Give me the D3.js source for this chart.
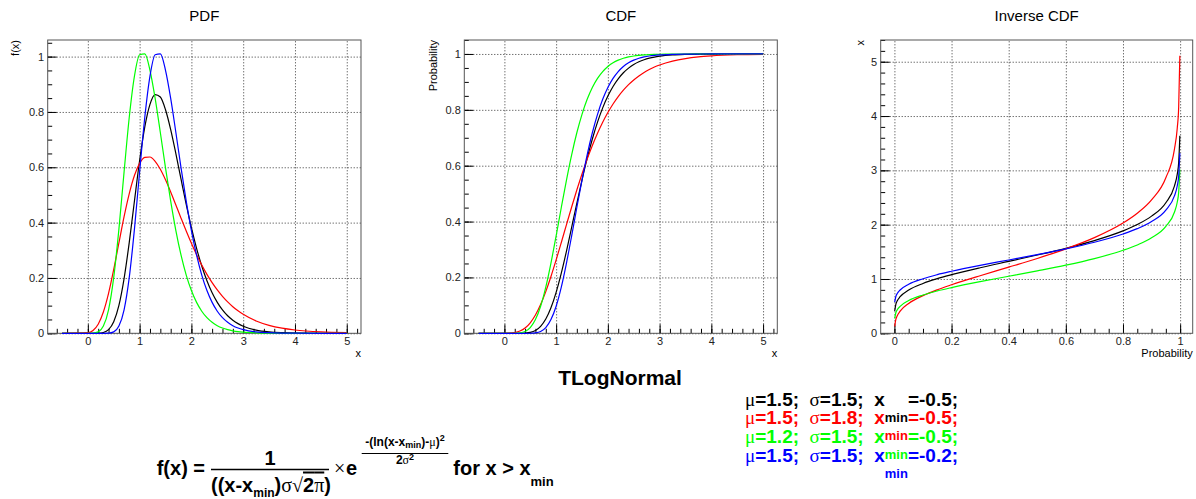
<!DOCTYPE html>
<html>
<head>
<meta charset="utf-8">
<script src="https://cdn.jsdelivr.net/npm/d3@7"></script>
<style>
  body { margin: 0; background: #fff; }
  text { font-family: "Liberation Sans", Arial, Helvetica, sans-serif; fill: #000; }
  .grid line { stroke: #000; stroke-dasharray: 1,2; stroke-width: 0.8; }
  .grid .domain { display: none; }
  .ax .domain { display: none; }
  .ax line { stroke: #000; }
  .ax text { font-size: 11px; fill: #222; }
  .greek { font-family: "Liberation Serif", "DejaVu Serif", serif; font-weight: normal; }
</style>
</head>
<body>
<script>
// x positions sampled for the PDF and CDF panels
var xGrid = [-0.5, 0, 0.1, 0.2, 0.3, 0.4, 0.5, 0.6, 0.7, 0.8, 0.9, 1.0, 1.1, 1.2, 1.3, 1.4, 1.5, 1.6, 1.7, 1.8, 1.9,
  2.0, 2.1, 2.2, 2.3, 2.4, 2.5, 2.6, 2.7, 2.8, 2.9, 3.0, 3.25, 3.5, 3.75, 4, 4.5, 5];

var pdfBlack = [0, 0, 0, 0.0004, 0.0029, 0.0132, 0.0418, 0.1009, 0.1978, 0.3288, 0.4782, 0.6246, 0.7459, 0.8275, 0.8629,
  0.8538, 0.8080, 0.7363, 0.6492, 0.5568, 0.4659, 0.3818, 0.3072, 0.2431, 0.1900, 0.1465, 0.1118, 0.0846, 0.0633,
  0.0472, 0.0349, 0.0257, 0.0117, 0.0052, 0.0023, 0.0010, 0.0002, 0];
var pdfRed = [0, 0.0021, 0.0104, 0.0330, 0.0770, 0.1444, 0.2308, 0.3268, 0.4216, 0.5050, 0.5703, 0.6140, 0.6357, 0.6371,
  0.6216, 0.5928, 0.5547, 0.5107, 0.4636, 0.4160, 0.3695, 0.3253, 0.2843, 0.2468, 0.2131, 0.1831, 0.1566, 0.1335,
  0.1135, 0.0962, 0.0813, 0.0686, 0.0446, 0.0288, 0.0185, 0.0119, 0.0049, 0.0021];
var pdfGreen = [0, 0, 0.0005, 0.0051, 0.0260, 0.0849, 0.2019, 0.3767, 0.5834, 0.7808, 0.9294, 1.0067, 1.0097, 0.9506,
  0.8491, 0.7257, 0.5979, 0.4774, 0.3711, 0.2822, 0.2104, 0.1544, 0.1117, 0.0798, 0.0565, 0.0396, 0.0276, 0.0191,
  0.0131, 0.0090, 0.0061, 0.0042, 0.0016, 0.0006, 0.0002, 0, 0, 0];
var pdfBlue = [0, 0, 0, 0, 0, 0.0005, 0.0051, 0.0260, 0.0849, 0.2019, 0.3767, 0.5834, 0.7808, 0.9294, 1.0067, 1.0097,
  0.9506, 0.8491, 0.7257, 0.5979, 0.4774, 0.3711, 0.2822, 0.2104, 0.1544, 0.1117, 0.0798, 0.0565, 0.0396, 0.0276,
  0.0191, 0.0131, 0.0051, 0.0021, 0.0008, 0.0003, 0, 0];

var cdfBlack = [0, 0, 0, 0, 0.0001, 0.0009, 0.0034, 0.0102, 0.0249, 0.0510, 0.0913, 0.1465, 0.2153, 0.2943, 0.3793,
  0.4655, 0.5487, 0.6261, 0.6956, 0.7559, 0.8070, 0.8493, 0.8837, 0.9111, 0.9327, 0.9494, 0.9623, 0.9720, 0.9794,
  0.9849, 0.9890, 0.9920, 0.9964, 0.9984, 0.9993, 0.9997, 1, 1];
var cdfRed = [0, 0.0001, 0.0006, 0.0027, 0.0080, 0.0188, 0.0375, 0.0653, 0.1028, 0.1493, 0.2032, 0.2626, 0.3252, 0.3890,
  0.4521, 0.5130, 0.5703, 0.6236, 0.6724, 0.7163, 0.7557, 0.7903, 0.8208, 0.8474, 0.8703, 0.8901, 0.9070, 0.9215,
  0.9339, 0.9443, 0.9532, 0.9606, 0.9746, 0.9836, 0.9895, 0.9932, 0.9972, 0.9988];
var cdfGreen = [0, 0, 0, 0.0002, 0.0016, 0.0067, 0.0205, 0.0490, 0.0969, 0.1655, 0.2515, 0.3489, 0.4503, 0.5487, 0.6390,
  0.7179, 0.7840, 0.8377, 0.8800, 0.9125, 0.9370, 0.9551, 0.9683, 0.9778, 0.9846, 0.9893, 0.9927, 0.9950, 0.9966,
  0.9977, 0.9984, 0.9989, 0.9996, 0.9999, 1, 1, 1, 1];
var cdfBlue = [0, 0, 0, 0, 0, 0, 0.0002, 0.0016, 0.0067, 0.0205, 0.0490, 0.0969, 0.1655, 0.2515, 0.3489, 0.4503, 0.5487,
  0.6390, 0.7179, 0.7840, 0.8377, 0.8800, 0.9125, 0.9370, 0.9551, 0.9683, 0.9778, 0.9846, 0.9893, 0.9927, 0.9950,
  0.9966, 0.9987, 0.9995, 0.9998, 1, 1, 1];

// probabilities sampled for the inverse CDF panel
var probGrid = [0.001, 0.005, 0.01, 0.02, 0.05, 0.1, 0.15, 0.2, 0.3, 0.4, 0.5, 0.6, 0.7, 0.8, 0.85, 0.9, 0.95, 0.98,
  0.99, 0.995, 0.999];
var invBlack = [0.410, 0.533, 0.598, 0.673, 0.797, 0.918, 1.006, 1.079, 1.207, 1.324, 1.441, 1.565, 1.707, 1.885, 2.002,
  2.157, 2.404, 2.710, 2.932, 3.148, 3.638];
var invRed = [0.129, 0.255, 0.325, 0.408, 0.549, 0.693, 0.802, 0.894, 1.060, 1.217, 1.378, 1.555, 1.761, 2.030, 2.211,
  2.457, 2.863, 3.386, 3.780, 4.176, 5.108];
var invGreen = [0.274, 0.378, 0.433, 0.497, 0.603, 0.705, 0.780, 0.842, 0.951, 1.050, 1.150, 1.255, 1.376, 1.528, 1.627,
  1.758, 1.968, 2.229, 2.417, 2.601, 3.017];
var invBlue = [0.574, 0.678, 0.733, 0.797, 0.903, 1.005, 1.080, 1.142, 1.251, 1.350, 1.450, 1.555, 1.676, 1.828, 1.927,
  2.058, 2.268, 2.529, 2.717, 2.901, 3.317];

var colors = ["#000000", "#ff0000", "#00ff00", "#0000ff"];
var mus = ["1.5", "1.5", "1.2", "1.5"];
var sigmas = ["1.5", "1.8", "1.5", "1.5"];
var xmins = ["-0.5", "-0.5", "-0.5", "-0.2"];

var svg = d3.select("body").append("svg")
  .attr("width", 1196)
  .attr("height", 499);

function stepTicks(domain, step) {
  var out = [];
  for (var k = Math.ceil(domain[0] / step - 1e-9); k * step <= domain[1] + 1e-9; k++) {
    out.push(+(k * step).toFixed(6));
  }
  return out;
}

function zip(xs, ys) {
  return xs.map(function(v, i) { return [v, ys[i]]; });
}

function gen_panel(p) {
  var g = svg.append("g").attr("transform", "translate(" + p.left + "," + p.top + ")");

  var xscale = d3.scaleLinear().domain(p.xDomain).range([0, p.w]);
  var yscale = d3.scaleLinear().domain(p.yDomain).range([p.h, 0]);

  var xMajor = stepTicks(p.xDomain, p.xStep[0]);
  var yMajor = stepTicks(p.yDomain, p.yStep[0]);

  // dotted grid at the major ticks
  g.append("g").attr("class", "grid")
    .attr("transform", "translate(0," + p.h + ")")
    .call(d3.axisBottom(xscale).tickValues(xMajor).tickSize(-p.h).tickFormat(""));
  g.append("g").attr("class", "grid")
    .call(d3.axisLeft(yscale).tickValues(yMajor).tickSize(-p.w).tickFormat(""));

  // minor ticks, pointing inward
  g.append("g").attr("class", "ax")
    .attr("transform", "translate(0," + p.h + ")")
    .call(d3.axisBottom(xscale).tickValues(stepTicks(p.xDomain, p.xStep[1])).tickSize(-4.5).tickFormat(""));
  g.append("g").attr("class", "ax")
    .call(d3.axisLeft(yscale).tickValues(stepTicks(p.yDomain, p.yStep[1])).tickSize(-4.5).tickFormat(""));

  // major ticks with labels
  g.append("g").attr("class", "ax")
    .attr("transform", "translate(0," + p.h + ")")
    .call(d3.axisBottom(xscale).tickValues(xMajor).tickSize(-9).tickPadding(4).tickFormat(d3.format("~g")));
  g.append("g").attr("class", "ax")
    .call(d3.axisLeft(yscale).tickValues(yMajor).tickSize(-9).tickPadding(3.5).tickFormat(d3.format("~g")));

  // frame
  g.append("rect")
    .attr("width", p.w)
    .attr("height", p.h)
    .style("fill", "none")
    .style("stroke", "#555")
    .style("stroke-width", 1);

  var line = d3.line()
    .x(function(d) { return xscale(d[0]); })
    .y(function(d) { return yscale(d[1]); })
    .curve(d3.curveMonotoneX);

  p.series.forEach(function(s, i) {
    g.append("path")
      .datum(zip(p.xs, s))
      .style("fill", "none")
      .style("stroke", colors[i])
      .style("stroke-width", 1.2)
      .attr("d", line);
  });

  // titles
  svg.append("text")
    .attr("x", p.left + p.w / 2)
    .attr("y", 21)
    .attr("text-anchor", "middle")
    .style("font-size", "15px")
    .text(p.title);

  svg.append("text")
    .attr("transform", "translate(" + p.yTitleX + "," + p.top + ") rotate(-90)")
    .attr("text-anchor", "end")
    .style("font-size", "11px")
    .text(p.yTitle);

  svg.append("text")
    .attr("x", p.left + p.w)
    .attr("y", p.top + p.h + 24)
    .attr("text-anchor", "end")
    .style("font-size", "11px")
    .text(p.xTitle);
}

gen_panel({
  title: "PDF", xTitle: "x", yTitle: "f(x)", yTitleX: 19,
  left: 47.7, top: 40, w: 313.3, h: 293.3,
  xDomain: [-0.775, 5.275], yDomain: [0, 1.06],
  xStep: [1, 0.2], yStep: [0.2, 0.05],
  xs: xGrid, series: [pdfBlack, pdfRed, pdfGreen, pdfBlue]
});

gen_panel({
  title: "CDF", xTitle: "x", yTitle: "Probability", yTitleX: 437,
  left: 464.3, top: 40, w: 313, h: 293.3,
  xDomain: [-0.775, 5.275], yDomain: [0, 1.05],
  xStep: [1, 0.2], yStep: [0.2, 0.05],
  xs: xGrid, series: [cdfBlack, cdfRed, cdfGreen, cdfBlue]
});

gen_panel({
  title: "Inverse CDF", xTitle: "Probability", yTitle: "x", yTitleX: 864,
  left: 880.7, top: 40, w: 312, h: 293.3,
  xDomain: [-0.048, 1.044], yDomain: [0, 5.4],
  xStep: [0.2, 0.05], yStep: [1, 0.2],
  xs: probGrid, series: [invBlack, invRed, invGreen, invBlue]
});

// big title
svg.append("text")
  .attr("x", 620)
  .attr("y", 385)
  .attr("text-anchor", "middle")
  .style("font-size", "21px")
  .style("font-weight", "bold")
  .text("TLogNormal");

// parameter legend
colors.forEach(function(c, i) {
  var t = svg.append("text")
    .attr("x", 745)
    .attr("y", 405.7 + i * 18.7)
    .attr("xml:space", "preserve")
    .style("white-space", "pre")
    .style("font-size", "19px")
    .style("font-weight", "bold")
    .style("fill", c);
  t.append("tspan").attr("class", "greek").style("fill", c).text("\u03bc");
  t.append("tspan").style("fill", c).text("=" + mus[i] + ";  ");
  t.append("tspan").attr("class", "greek").style("fill", c).text("\u03c3");
  t.append("tspan").style("fill", c).text("=" + sigmas[i] + ";  x");
  t.append("tspan").attr("dy", 16).style("font-size", "13px").style("fill", c).text("min");
  t.append("tspan").attr("dy", -16).style("fill", c).text("=" + xmins[i] + ";");
});

// formula
var f = svg.append("g").style("font-weight", "bold");
f.append("text").attr("x", 156.7).attr("y", 475).style("font-size", "20px").text("f(x) =");
f.append("text").attr("x", 270).attr("y", 465).attr("text-anchor", "middle").style("font-size", "20px").text("1");
f.append("line").attr("x1", 211).attr("x2", 329).attr("y1", 469.5).attr("y2", 469.5)
  .style("stroke", "#000").style("stroke-width", 1.5);
var den = f.append("text").attr("x", 211).attr("y", 491.5).style("font-size", "20px");
den.append("tspan").text("((x-x");
den.append("tspan").attr("dy", 5).style("font-size", "12px").text("min");
den.append("tspan").attr("dy", -5).text(")");
den.append("tspan").attr("class", "greek").text("\u03c3\u221a");
den.append("tspan").style("text-decoration", "overline").text("2");
den.append("tspan").attr("class", "greek").style("text-decoration", "overline").text("\u03c0");
den.append("tspan").text(")");
f.append("text").attr("x", 334).attr("y", 475).attr("class", "greek").style("font-size", "20px").text("\u00d7");
f.append("text").attr("x", 346).attr("y", 475).style("font-size", "20px").text("e");
f.append("line").attr("x1", 361.7).attr("x2", 448.3).attr("y1", 453.5).attr("y2", 453.5)
  .style("stroke", "#000").style("stroke-width", 1.2);
var num = f.append("text").attr("x", 405).attr("y", 446).attr("text-anchor", "middle").style("font-size", "12px");
num.append("tspan").text("-(ln(x-x");
num.append("tspan").attr("dy", 2).style("font-size", "9px").text("min");
num.append("tspan").attr("dy", -2).text(")-");
num.append("tspan").attr("class", "greek").text("\u03bc");
num.append("tspan").text(")");
num.append("tspan").attr("dy", -5).style("font-size", "9px").text("2");
var eden = f.append("text").attr("x", 405).attr("y", 464).attr("text-anchor", "middle").style("font-size", "12px");
eden.append("tspan").text("2");
eden.append("tspan").attr("class", "greek").text("\u03c3");
eden.append("tspan").attr("dy", -4).style("font-size", "9px").text("2");
var tail = f.append("text").attr("x", 453.3).attr("y", 475).style("font-size", "20px");
tail.append("tspan").text("for x > x");
tail.append("tspan").attr("dy", 11).style("font-size", "13px").text("min");
</script>
</body>
</html>
